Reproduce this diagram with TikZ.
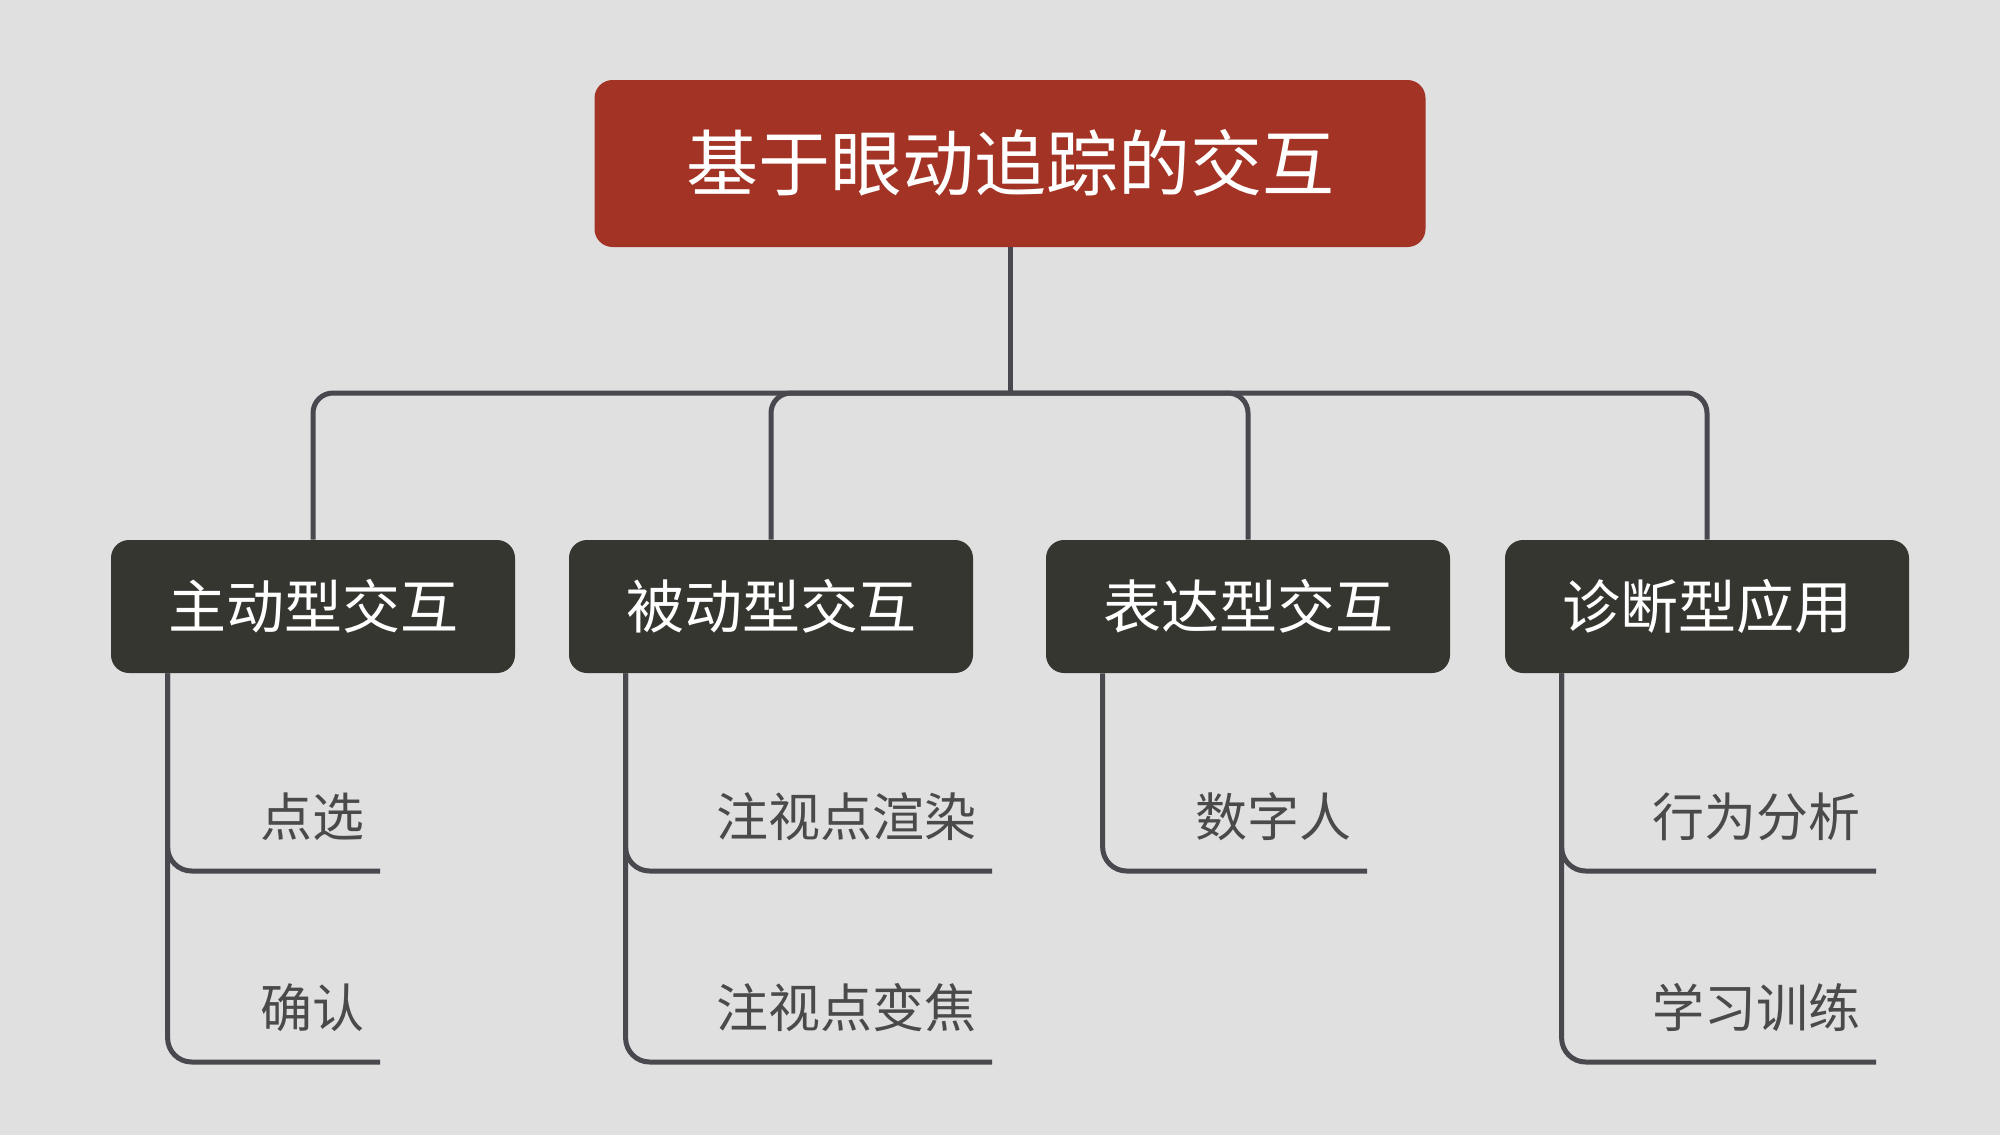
\documentclass[tikz,border=0pt]{standalone}
\usepackage{fontspec}
\setmainfont{Noto Sans CJK SC}
\definecolor{bg}{HTML}{E0E0E0}
\definecolor{rootred}{HTML}{A33425}
\definecolor{boxdark}{HTML}{363631}
\definecolor{linegray}{HTML}{48484E}
\definecolor{leaftext}{HTML}{4A4A4A}
\begin{document}
\begin{tikzpicture}[x=0.5pt,y=-0.5pt,
  rootbox/.style={fill=rootred, rounded corners=9pt, minimum width=415.5pt, minimum height=83.5pt, text=white, font=\fontsize{36pt}{36pt}\selectfont, inner sep=0pt, text height=27.4pt, text depth=0pt},
  catbox/.style={fill=boxdark, rounded corners=9pt, minimum width=202pt, minimum height=66.5pt, text=white, font=\fontsize{29pt}{29pt}\selectfont, inner sep=0pt, text height=22pt, text depth=0pt},
  leaf/.style={anchor=south east, minimum height=54pt, inner xsep=7.5pt, inner ysep=0pt, text=leaftext, font=\fontsize{26pt}{26pt}\selectfont, text height=19.8pt, text depth=0pt},
  conn/.style={draw=linegray, line width=2.5pt},
]
\fill[bg] (0,0) rectangle (2000,1135);
\useasboundingbox (0,0) rectangle (2000,1135);

\node[rootbox] (root) at (1010,163.5) {基于眼动追踪的交互};
\coordinate (hub) at (1010,393);

\node[catbox] (c1) at (313,606.5) {主动型交互};
\node[catbox] (c2) at (771,606.5) {被动型交互};
\node[catbox] (c3) at (1248,606.5) {表达型交互};
\node[catbox] (c4) at (1707,606.5) {诊断型应用};

\node[leaf] (l11) at (380,871) {点选};
\node[leaf] (l12) at (380,1062) {确认};
\node[leaf] (l21) at (992,871) {注视点渲染};
\node[leaf] (l22) at (992,1062) {注视点变焦};
\node[leaf] (l31) at (1367,871) {数字人};
\node[leaf] (l41) at (1876,871) {行为分析};
\node[leaf] (l42) at (1876,1062) {学习训练};

\draw[conn] (root.south) -- (hub);
\foreach \c in {c1,c2,c3,c4}
  \draw[conn, rounded corners=10pt] (hub) -| (\c.north);

\draw[conn, rounded corners=12pt] ([xshift=28.5pt]c1.south west) |- (l11.south east);
\draw[conn, rounded corners=12pt] ([xshift=28.5pt]c1.south west) |- (l12.south east);
\draw[conn, rounded corners=12pt] ([xshift=28.5pt]c2.south west) |- (l21.south east);
\draw[conn, rounded corners=12pt] ([xshift=28.5pt]c2.south west) |- (l22.south east);
\draw[conn, rounded corners=12pt] ([xshift=28.5pt]c3.south west) |- (l31.south east);
\draw[conn, rounded corners=12pt] ([xshift=28.5pt]c4.south west) |- (l41.south east);
\draw[conn, rounded corners=12pt] ([xshift=28.5pt]c4.south west) |- (l42.south east);
\end{tikzpicture}
\end{document}
